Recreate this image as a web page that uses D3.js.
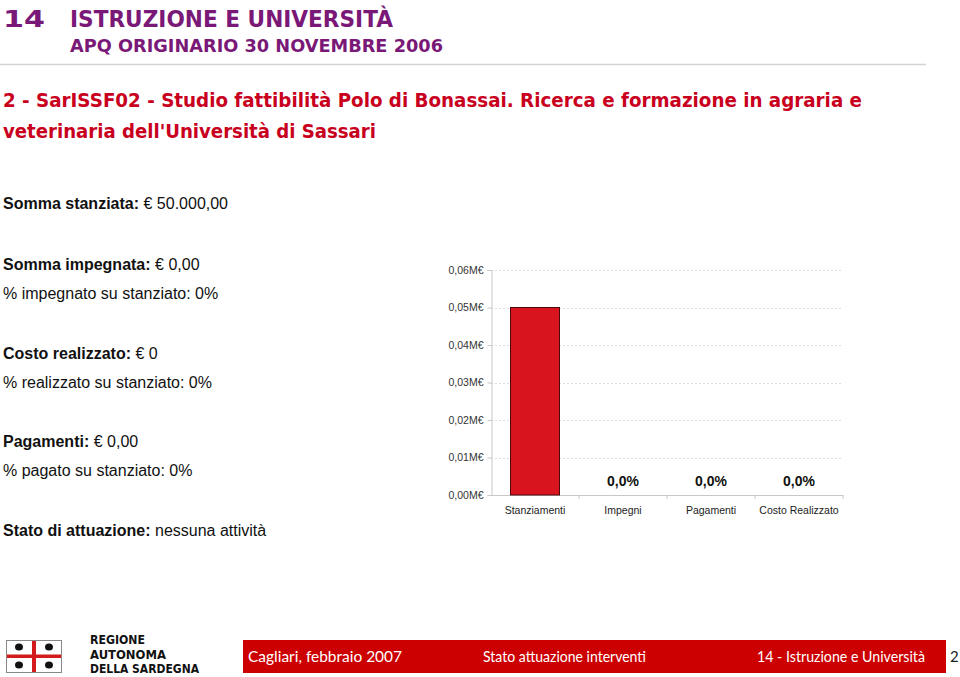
<!DOCTYPE html>
<html><head><meta charset="utf-8">
<script src="https://cdn.jsdelivr.net/npm/d3@7/dist/d3.min.js"></script>
<style>body{margin:0;background:#fff}svg{display:block}</style>
</head><body>
<svg id="c" width="960" height="677"></svg>
<script>
const categories = ["Stanziamenti", "Impegni", "Pagamenti", "Costo Realizzato"];
const values = [50000, 0, 0, 0];
const pctLabels = ["", "0,0%", "0,0%", "0,0%"];
const yTicks = [0, 10000, 20000, 30000, 40000, 50000, 60000];
const infoLines = [
  ["Somma stanziata:", " € 50.000,00"],
  ["Somma impegnata:", " € 0,00"],
  ["", "% impegnato su stanziato: 0%"],
  ["Costo realizzato:", " € 0"],
  ["", "% realizzato su stanziato: 0%"],
  ["Pagamenti:", " € 0,00"],
  ["", "% pagato su stanziato: 0%"],
  ["Stato di attuazione:", " nessuna attività"]
];
const infoY = [209, 270, 299, 359, 388, 447, 476, 536];

const svg = d3.select("#c");
const purple = "#7a1878", red = "#c8001e", fred = "#cc0000";
const hf = "'DejaVu Sans',sans-serif";
const lf = "'Lato','Open Sans',sans-serif";
const af = "'Liberation Sans',Arial,sans-serif";

// header
svg.append("text").attr("x",3).attr("y",27).attr("fill",purple).attr("font-family",hf).attr("font-weight","bold").attr("font-size",23).attr("textLength",42).attr("lengthAdjust","spacingAndGlyphs").text("14");
svg.append("text").attr("x",70).attr("y",27).attr("fill",purple).attr("font-family",hf).attr("font-weight","bold").attr("font-size",23).attr("textLength",323).attr("lengthAdjust","spacingAndGlyphs").text("ISTRUZIONE E UNIVERSITÀ");
svg.append("text").attr("x",70).attr("y",52).attr("fill",purple).attr("font-family",hf).attr("font-weight","bold").attr("font-size",17.5).attr("textLength",373).attr("lengthAdjust","spacingAndGlyphs").text("APQ ORIGINARIO 30 NOVEMBRE 2006");
svg.append("line").attr("x1",0).attr("x2",926).attr("y1",64.5).attr("y2",64.5).attr("stroke","#d8d2d8").attr("stroke-width",1.5);

// red title
svg.append("text").attr("x",3).attr("y",107).attr("fill",red).attr("font-family",hf).attr("font-weight","bold").attr("font-size",19).attr("textLength",859).attr("lengthAdjust","spacingAndGlyphs").text("2 - SarISSF02 - Studio fattibilità Polo di Bonassai. Ricerca e formazione in agraria e");
svg.append("text").attr("x",3).attr("y",138).attr("fill",red).attr("font-family",hf).attr("font-weight","bold").attr("font-size",19).attr("textLength",373).attr("lengthAdjust","spacingAndGlyphs").text("veterinaria dell'Università di Sassari");

// info
infoLines.forEach((l,i)=>{
  const t = svg.append("text").attr("x",3).attr("y",infoY[i]).attr("font-family",af).attr("font-size",16).attr("fill","#111");
  if(l[0]) t.append("tspan").attr("font-weight","bold").text(l[0]);
  t.append("tspan").text(l[1]);
});

// chart
const y = d3.scaleLinear().domain([0,60000]).range([495,270]);
const fmt = v => d3.format(".2f")(v/1e6).replace(".",",")+"M€";
const x = d3.scaleBand().domain(categories).range([491,843]).padding(0);
const cx = c => x(c) + x.bandwidth()/2;

svg.selectAll("line.grid").data(yTicks.filter(d=>d>0)).join("line")
  .attr("x1",491).attr("x2",843).attr("y1",d=>Math.round(y(d))+0.5).attr("y2",d=>Math.round(y(d))+0.5)
  .attr("stroke","#dcdcdc").attr("stroke-dasharray","2,2");

const ya = d3.axisLeft(y).tickValues(yTicks).tickFormat(fmt).tickSize(4).tickPadding(4);
const yg = svg.append("g").attr("transform","translate(491.5,0)").call(ya);
yg.select(".domain").attr("stroke","#c8c8c8");
yg.selectAll(".tick line").attr("stroke","#c8c8c8");
yg.selectAll("text").attr("font-family",af).attr("font-size",10.5).attr("fill","#333");

// x axis
svg.append("line").attr("x1",491).attr("x2",843).attr("y1",495.5).attr("y2",495.5).attr("stroke","#c8c8c8");
svg.selectAll("line.sep").data(categories).join("line")
  .attr("x1",d=>x(d)+x.bandwidth()).attr("x2",d=>x(d)+x.bandwidth()).attr("y1",495).attr("y2",499).attr("stroke","#c8c8c8");

svg.selectAll("text.cat").data(categories).join("text")
  .attr("x",d=>cx(d)).attr("y",514).attr("text-anchor","middle").attr("font-family",af).attr("font-size",10.5).attr("fill","#222").text(d=>d);

svg.selectAll("rect.bar").data(values.map((v,i)=>({c:categories[i],v})).filter(d=>d.v>0)).join("rect")
  .attr("x",d=>cx(d.c)-24.5).attr("width",49).attr("y",d=>y(d.v)).attr("height",d=>y(0)-y(d.v))
  .attr("fill","#d8141e").attr("stroke","#4a0a0a").attr("stroke-width",1);

svg.selectAll("text.pct").data(categories.map((c,i)=>({c,l:pctLabels[i]})).filter(d=>d.l)).join("text")
  .attr("x",d=>cx(d.c)).attr("y",486).attr("text-anchor","middle").attr("font-family",af).attr("font-weight","bold").attr("font-size",14).attr("fill","#111").text(d=>d.l);

// footer logo
const lg = svg.append("g");
lg.append("rect").attr("x",6.5).attr("y",640.5).attr("width",55).attr("height",32).attr("fill","#fff").attr("stroke","#888");
lg.append("rect").attr("x",32).attr("y",641).attr("width",4).attr("height",31).attr("fill","#d41a1a");
lg.append("rect").attr("x",7).attr("y",654.5).attr("width",54).attr("height",3.5).attr("fill","#d41a1a");
[[19,647],[49,647],[19,665],[49,665]].forEach(p=>{
  lg.append("ellipse").attr("cx",p[0]).attr("cy",p[1]).attr("rx",4).attr("ry",3.5).attr("fill","#111");
});
[["REGIONE",644,55],["AUTONOMA",659,76],["DELLA SARDEGNA",673,109]].forEach(d=>{
  svg.append("text").attr("x",90).attr("y",d[1]).attr("font-family",hf).attr("font-weight","bold").attr("font-size",12).attr("fill","#111").attr("textLength",d[2]).attr("lengthAdjust","spacingAndGlyphs").text(d[0]);
});
svg.append("rect").attr("x",243).attr("y",640).attr("width",703).attr("height",33).attr("fill",fred);
const ft = [["Cagliari, febbraio 2007",248,154],["Stato attuazione interventi",483,163],["14 - Istruzione e Università",757,168]];
ft.forEach(d=>svg.append("text").attr("x",d[1]).attr("y",662).attr("font-family",lf).attr("font-size",15).attr("fill","#fff").attr("textLength",d[2]).attr("lengthAdjust","spacingAndGlyphs").text(d[0]));
svg.append("text").attr("x",950).attr("y",662).attr("font-family",lf).attr("font-size",15).attr("fill","#222").text("2");
</script>
</body></html>
